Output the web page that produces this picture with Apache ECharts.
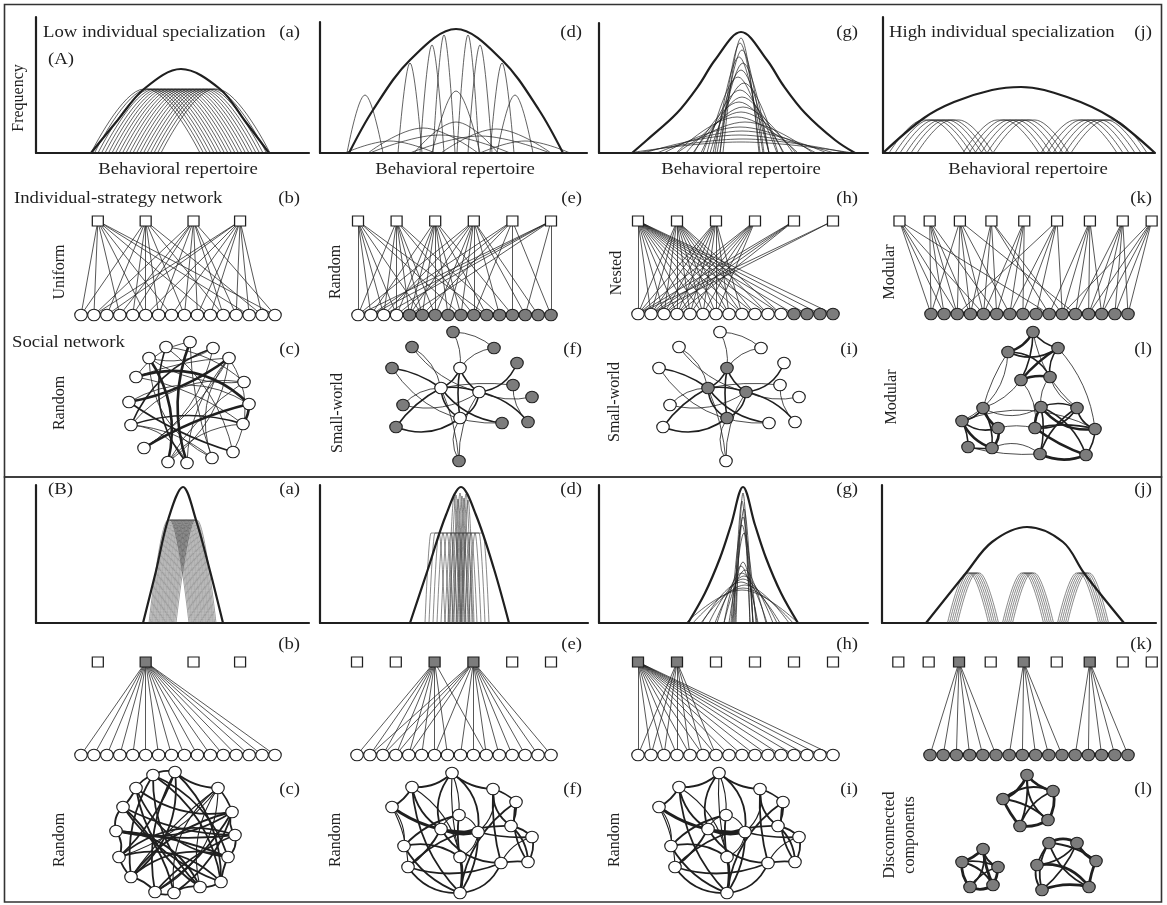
<!DOCTYPE html>
<html>
<head>
<meta charset="utf-8">
<title>Individual specialization, individual-strategy networks and social networks</title>
<script src="https://cdn.jsdelivr.net/npm/echarts@6.0.0/dist/echarts.min.js"></script>
<style>
  html, body { margin: 0; padding: 0; background: #ffffff; }
  #chart { width: 1167px; height: 905px; }
</style>
</head>
<body>
<div id="chart"></div>
<script>
/* ---------------- Frequency distributions ----------------
   x: position along the behavioral repertoire axis, y: frequency.
   pop*: key points of the population niche, ind*: individual niches. */

// (A) a - low individual specialization
const popAa = [[55,0],[81,32],[108,64],[145,84],[184,64],[209,32],[233,0]];
const indAaFeet = [55,58.5,62,65.5,69,72.5,76,79.5,83,86.5,90,93.5,97,100.5,104,107.5,111,114.5,118,121.5,125];
const indAaShape = [53,3,64];            // rise, top width, height
// (A) d
const popAd = [[29,0],[53,43],[90,93],[136,124],[182,93],[219,43],[243,0]];
const indAdCenter = [90,112,124,148,160,182, 45,195,136, 103,176,136,70,205,120,160];
const indAdHeight = [90,108,118,118,108,90, 58,58,62, 25,24,31,12,12,18,17];
const indAdHalf   = [12,12,11,11,12,12, 18,18,24, 55,55,42,45,45,70,70];
// (A) g
const popAg = [[33,0],[48,13],[78,40],[100,68],[116,93],[142,121],[168,93],[184,68],[206,40],[236,13],[256,0]];
const indAgCenter = [142,141,143,140,144,142,139,145,141,143,140,144,142,138,146,141,143,140,144,142];
const indAgHeight = [115,110,103,96,90,83,76,70,63,56,51,46,41,36,31,26,22,18,14,11];
const indAgHalf   = [18,20,22,24,26,28,31,34,37,41,45,50,55,61,68,76,85,95,105,112];
// (A) j - high individual specialization
const popAj = [[0,0],[41,35],[71,51],[109,63],[138,66],[184,56],[229,35],[272,0]];
const indAjCenter = [44,50,55,61,66,72, 118,124,130,136,142,148, 196,202,208,214,220,226];
const indAjShape = [34,8,33];

// (B) a
const popBa = [[107,0],[120,52],[132,103],[147,136],[160,103],[174,52],[187,0]];
const indBaFeet = [113,114.2,115.4,116.5,117.7,118.9,120,121.2,122.4,123.5,124.7,125.9,127,128.2,129.4,130.5,131.7,132.9,134,135.2,136.4,137.5,138.7,140];
const indBaShape = [19,2,103];
// (B) d
const popBd = [[90,0],[108,54],[126,108],[141,136],[156,108],[174,54],[189,0]];
const indBdArchCenter = [115,119,123,127,131,135,139,143,147,151,155,159];
const indBdArchShape = [6,8,90];
const indBdSpikeCenter = [134,136,138,140,142,144,146,148];
const indBdSpikeHeight = [126,128,124,130,127,125,129,123];
const indBdSpikeHalf   = [6,6,6,6,6,6,6,6];
// (B) g
const popBg = [[89,0],[106,30],[121,65],[132,98],[144,136],[156,98],[167,65],[182,30],[199,0]];
const indBgCenter = [144,143,145,144,143,145,144,142,146,143,145,144,142,146,144,143];
const indBgHeight = [130,122,114,106,98,90,61,57,53,50,47,44,41,38,35,33];
const indBgHalf   = [7,8,9,10,11,12,14,17,21,25,29,34,39,44,50,56];
// (B) j
const popBj = [[44,0],[84,50],[110,81],[145,96],[181,81],[202,50],[242,0]];
const indBjCenter = [86,88,90,92,94,96, 141,143,145,147,149,151, 196,198,200,202,204,206];
const indBjShape = [19,3,50];

/* ---------------- Individual-strategy networks ----------------
   strategies sit on the individual index scale (0..15);
   links: for each strategy, the individuals using it. */
const uniformStrategies = [1.3,5.0,8.7,12.3];
const uniformLinks = [[0,1,3,5,7,10,13,15],[0,2,4,5,6,8,11,14],[1,3,4,6,8,9,11,12,15],[1,2,5,7,9,10,12,13,14]];
const uniformIndType = [0,0,0,0,0,0,0,0,0,0,0,0,0,0,0,0];

const randomStrategies = [0,3,6,9,12,15];
const randomLinks = [[0,1,2,3,5,8,10],[0,2,3,4,5,6,9,11],[1,3,4,5,6,7,8,10,12],[0,2,4,6,7,8,9,11,13,14],[1,3,5,9,12,15],[0,1,2,4,13,15]];
const randomIndType = [0,0,0,0,1,1,1,1,1,1,1,1,1,1,1,1];

const nestedStrategies = [0,3,6,9,12,15];
const nestedLinks = [[0,1,2,3,4,5,6,7,8,9,10,11,12,13,14,15],[0,1,2,3,4,5,6,7,8,9,10,11],[0,1,2,3,4,5,6,7,8],[0,1,2,3,4,5,6],[0,1,2,3],[0,1]];
const nestedIndType = [0,0,0,0,0,0,0,0,0,0,0,0,1,1,1,1];

const modularStrategies = [-2.4,-0.1,2.2,4.6,7.1,9.6,12.1,14.6,16.8];
const modularLinks = [[0,1,2,4,9],[0,1,2,3,5],[0,2,3,4,6,11],[3,4,5,9,10],[4,5,6,7],[2,6,7,8,10],[9,10,11,12,13],[11,12,13,14,15],[10,12,13,14,15]];
const modularIndType = [1,1,1,1,1,1,1,1,1,1,1,1,1,1,1,1];

// (B): one or a few strategies per population
const bUniformLinks = [[],[0,1,2,3,4,5,6,7,8,9,10,11,12,13,14,15],[],[]];
const bUniformUsed = [0,1,0,0];
const bRandomLinks = [[],[],[0,1,2,3,4,5,6,7,10],[1,2,3,4,6,8,9,10,11,12,13,14,15],[],[]];
const bRandomUsed = [0,0,1,1,0,0];
const bNestedLinks = [[0,1,2,3,4,5,6,7,8,9,10,11,12,13,14,15],[0,1,2,3,4,5,6],[],[],[],[]];
const bNestedUsed = [1,1,0,0,0,0];
const bModularLinks = [[],[],[0,1,2,3,4,5],[],[6,7,8,9,10],[],[11,12,13,14,15],[],[]];
const bModularUsed = [0,0,1,0,1,0,1,0,0];
const bWhiteInd = [0,0,0,0,0,0,0,0,0,0,0,0,0,0,0,0];
const bGrayInd  = [1,1,1,1,1,1,1,1,1,1,1,1,1,1,1,1];

/* ---------------- Social networks ----------------
   nodes: position relative to the network centre; ties: [i, j, strength 1..3] */
const socAcNodes = [[-23,-55],[1,-60],[24,-54],[40,-44],[-40,-44],[-53,-25],[55,-20],[-60,0],[60,2],[-58,23],[54,22],[-45,46],[44,50],[-21,60],[-2,61],[23,56]];
const socAcTies = [[4,13,3],[1,14,3],[3,7,3],[0,14,2],[5,8,3],[8,11,3],[8,10,3],[2,9,2],
  [3,13,1],[3,14,1],[3,11,1],[3,15,1],[3,12,1],[3,5,1],[0,6,1],[1,5,1],[2,4,1],[4,6,1],
  [5,10,1],[6,9,1],[7,8,1],[7,12,2],[9,15,1],[10,13,1],[2,11,1],[12,0,1],[13,6,1],[14,9,1],[15,4,1],[1,15,1],[9,10,2]];
const socAcType = [0,0,0,0,0,0,0,0,0,0,0,0,0,0,0,0];

const smallWorldNodes = [[-2,-29],[-21,-9],[17,-5],[-2,21],[-9,-65],[-50,-50],[32,-49],[-70,-29],[55,-34],[51,-12],[70,0],[-59,8],[40,26],[66,25],[-66,30],[-3,64]];
const smallWorldTies = [[0,1,2],[0,2,2],[1,2,2],[1,3,2],[2,3,2],[0,3,2],[4,0,1],[6,0,1],[5,1,1],[5,2,1],[7,1,2],[7,12,1],
  [8,2,2],[9,1,1],[10,2,1],[11,2,1],[12,1,2],[13,2,2],[14,1,2],[14,3,2],[15,3,1],[15,1,1],[15,2,1],[9,13,1],[11,1,1],[6,4,1]];
const socAfType = [0,0,0,0,1,1,1,1,1,1,1,1,1,1,1,1];
const socAiType = [1,1,1,1,0,0,0,0,0,0,0,0,0,0,0,0];

const socAlNodes = [[5,-61],[-20,-41],[30,-45],[-7,-13],[22,-16],[-45,15],[-66,28],[-30,35],[-60,54],[-36,55],[13,14],[49,15],[7,35],[67,36],[12,61],[58,62]];
const socAlTies = [[0,1,3],[0,2,2],[0,3,2],[1,2,2],[1,4,2],[2,3,3],[3,4,3],[2,4,2],
  [5,6,2],[5,7,3],[6,8,2],[6,7,2],[7,9,3],[8,9,2],[5,9,2],[6,9,3],
  [10,11,2],[10,12,3],[10,14,2],[11,13,2],[11,12,2],[12,15,3],[13,15,2],[14,15,3],[10,15,2],[11,14,2],[12,13,2],[10,13,3],
  [1,6,1],[1,5,1],[2,13,1],[4,10,1],[3,12,1],[0,11,1],[7,12,1],[5,10,1],[9,14,1],[8,14,1],[3,5,1],[4,11,1],[6,13,1]];
const socAlType = [1,1,1,1,1,1,1,1,1,1,1,1,1,1,1,1];

const socBcNodes = [[-23,-57],[-1,-60],[42,-44],[56,-20],[59,3],[52,25],[45,50],[24,55],[-2,61],[-21,60],[-45,45],[-57,25],[-60,-1],[-53,-25],[-40,-44]];
const socBcTies = [[0,1,2],[1,2,2],[2,3,2],[3,4,2],[4,5,2],[5,6,2],[6,7,2],[7,8,2],[8,9,2],[9,10,2],[10,11,2],[11,12,2],[12,13,2],[13,14,2],[14,0,2],
  [0,7,2],[0,5,2],[1,9,2],[1,11,2],[2,8,1],[2,9,1],[2,10,1],[2,11,1],[2,7,1],[3,12,2],[3,10,2],[4,13,2],[4,11,2],[5,14,2],[5,12,2],
  [6,13,2],[6,0,2],[7,14,2],[8,3,2],[9,4,2],[10,1,2],[11,6,2],[12,4,2],[13,8,2],[14,3,2],[1,6,2],[0,10,2],[3,9,2],[5,10,2],[12,7,2]];
const socBcType = [0,0,0,0,0,0,0,0,0,0,0,0,0,0,0];

const randomBNodes = [[-10,-60],[-50,-46],[31,-44],[54,-31],[-70,-26],[-3,-18],[49,-7],[-21,-4],[16,-1],[70,4],[-58,13],[-2,24],[-54,34],[39,30],[66,29],[-2,60]];
const randomBTies = [[0,1,2],[0,2,2],[0,5,1],[0,7,2],[0,8,2],[0,11,1],[1,4,2],[1,7,2],[1,11,1],[1,15,2],[2,3,2],[2,6,2],[2,8,1],[2,13,2],
  [3,6,2],[3,14,2],[4,10,1],[4,8,3],[4,12,1],[5,7,1],[5,8,1],[5,11,2],[6,9,2],[6,12,2],[6,14,2],[7,8,3],[7,12,2],[7,13,2],
  [8,11,1],[8,9,2],[8,15,2],[9,13,1],[10,11,2],[10,15,2],[11,15,3],[12,15,2],[13,15,2],[14,13,2],[10,5,2],[3,15,2],[9,14,2],[12,13,2]];
const randomBType = [0,0,0,0,0,0,0,0,0,0,0,0,0,0,0,0];

const socBlNodes = [[-2,-58],[-26,-34],[24,-42],[-9,-7],[19,-13],[-46,16],[-67,29],[-31,34],[-59,54],[-36,52],[20,10],[48,10],[8,32],[67,28],[13,57],[60,54]];
const socBlTies = [[0,1,3],[0,2,3],[0,3,2],[0,4,2],[1,2,2],[1,3,3],[1,4,2],[2,3,2],[2,4,3],[3,4,3],
  [5,6,3],[5,7,2],[5,8,2],[5,9,3],[6,7,2],[6,8,3],[6,9,2],[7,8,2],[7,9,3],[8,9,3],
  [10,11,3],[10,12,2],[10,13,2],[10,14,2],[11,12,2],[11,13,3],[11,14,2],[12,14,2],[12,15,3],[13,15,3],[14,15,3],[10,15,2]];
const socBlType = [1,1,1,1,1,1,1,1,1,1,1,1,1,1,1,1];

/* ---------------- Drawing ---------------- */
const FONT = '"Liberation Serif", "Times New Roman", serif';
const INK = '#1f1f1f';
const SHADE = '#7c7c7c';

const grid = [], xAxis = [], yAxis = [], series = [], graphic = [];

function addGrid(left, top, width, height, xmin, xmax, ymin, ymax, showAxes, inverseY) {
  const i = grid.length;
  grid.push({ left, top, width, height, containLabel: false, outerBoundsMode: 'none' });
  const axisLine = { show: !!showAxes, onZero: false, lineStyle: { color: INK, width: 2.2 } };
  const common = { axisLine, axisTick: { show: false }, axisLabel: { show: false }, splitLine: { show: false } };
  xAxis.push(Object.assign({ type: 'value', gridIndex: i, min: xmin, max: xmax, show: !!showAxes, position: 'bottom' }, common));
  yAxis.push(Object.assign({ type: 'value', gridIndex: i, min: ymin, max: ymax, inverse: !!inverseY, show: !!showAxes, position: 'left' }, common));
  return i;
}

function nicheFromFoot(f, s) { return [[f, 0], [f + s[0], s[2]], [f + s[0] + s[1], s[2]], [f + 2 * s[0] + s[1], 0]]; }
function nicheFromCenter(c, s) { return nicheFromFoot(c - s[1] / 2 - s[0], s); }
function peak(c, h, hw) { return [[c - hw, 0], [c, h], [c + hw, 0]]; }

function addCurve(g, pts, width, isNiche, color) {
  series.push({
    type: 'line', xAxisIndex: g, yAxisIndex: g, data: pts,
    symbol: 'none', showSymbol: false, silent: true, animation: false, clip: false,
    smooth: isNiche ? 0.4 : 0.35, smoothMonotone: isNiche ? 'x' : null,
    lineStyle: { color: color || INK, width: width }, z: isNiche ? 2 : 3
  });
}

function curvePanel(rect, pop, individuals, thin) {
  const g = addGrid(rect[0], rect[1], rect[2], rect[3], 0, rect[2], 0, rect[3], true, false);
  individuals.forEach(p => addCurve(g, p, thin || 0.7, true, thin ? '#3a3a3a' : INK));
  addCurve(g, pop, 2.2, false);
}

// frequency distribution panels (left, top, width, height of the axes box)
curvePanel([36, 17, 273, 136], popAa, indAaFeet.map(f => nicheFromFoot(f, indAaShape)));
curvePanel([320, 22, 267, 131], popAd, indAdCenter.map((c, i) => peak(c, indAdHeight[i], indAdHalf[i])));
curvePanel([599, 23, 269, 130], popAg, indAgCenter.map((c, i) => peak(c, indAgHeight[i], indAgHalf[i])));
curvePanel([883, 17, 272, 136], popAj, indAjCenter.map(c => nicheFromCenter(c, indAjShape)));

curvePanel([36, 485, 273, 138], popBa, indBaFeet.map(f => nicheFromFoot(f, indBaShape)), 0.5);
curvePanel([320, 485, 268, 138], popBd,
  indBdArchCenter.map(c => nicheFromCenter(c, indBdArchShape))
    .concat(indBdSpikeCenter.map((c, i) => peak(c, indBdSpikeHeight[i], indBdSpikeHalf[i]))), 0.6);
curvePanel([599, 485, 269, 138], popBg, indBgCenter.map((c, i) => peak(c, indBgHeight[i], indBgHalf[i])));
curvePanel([882, 485, 274, 138], popBj, indBjCenter.map(c => nicheFromCenter(c, indBjShape)), 0.6);

// individual-strategy (bipartite) networks
function bipartite(x0, x15, ySq, yCi, strategies, links, indType, used) {
  const g = addGrid(x0, ySq, x15 - x0, yCi - ySq, 0, 15, 0, 1, false, false);
  const nodes = [];
  strategies.forEach((s, k) => nodes.push({
    value: [s, 1], symbol: 'rect', symbolSize: [11, 10],
    itemStyle: { color: used && used[k] ? SHADE : '#ffffff', borderColor: INK, borderWidth: 1.2 }
  }));
  indType.forEach((t, i) => nodes.push({
    value: [i, 0], symbol: 'circle', symbolSize: [12.5, 11.5],
    itemStyle: { color: t ? SHADE : '#ffffff', borderColor: INK, borderWidth: 1.1 }
  }));
  const edges = [];
  links.forEach((list, k) => list.forEach(i => edges.push({
    source: k, target: strategies.length + i, lineStyle: { width: 0.75, color: INK, opacity: 1, curveness: 0 }
  })));
  series.push({
    type: 'graph', layout: 'none', coordinateSystem: 'cartesian2d', xAxisIndex: g, yAxisIndex: g,
    data: nodes, links: edges, silent: true, animation: false, roam: false,
    edgeSymbol: ['none', 'none'], label: { show: false }, emphasis: { disabled: true },
    lineStyle: { color: INK, opacity: 1, width: 0.75 }, z: 4
  });
}
bipartite(81, 275, 221, 315, uniformStrategies, uniformLinks, uniformIndType, null);
bipartite(358, 551, 221, 315, randomStrategies, randomLinks, randomIndType, null);
bipartite(638, 833, 221, 314, nestedStrategies, nestedLinks, nestedIndType, null);
bipartite(931, 1128, 221, 314, modularStrategies, modularLinks, modularIndType, null);

bipartite(81, 275, 662, 755, uniformStrategies, bUniformLinks, bWhiteInd, bUniformUsed);
bipartite(357, 551, 662, 755, randomStrategies, bRandomLinks, bWhiteInd, bRandomUsed);
bipartite(638, 833, 662, 755, nestedStrategies, bNestedLinks, bWhiteInd, bNestedUsed);
bipartite(930, 1128, 662, 755, modularStrategies, bModularLinks, bGrayInd, bModularUsed);

// social networks
const BEND = [0.22, -0.18, 0.12, -0.28, 0.3, -0.08, 0.16, -0.22];
function social(cx, cy, nodes, ties, types, widths) {
  const w = 170, h = 150;
  const g = addGrid(cx - w / 2, cy - h / 2, w, h, -w / 2, w / 2, -h / 2, h / 2, false, true);
  const data = nodes.map((p, i) => ({
    value: p, symbol: 'circle', symbolSize: [12.5, 11.5],
    itemStyle: { color: types[i] ? SHADE : '#ffffff', borderColor: INK, borderWidth: 1.1 }
  }));
  const edges = ties.map((t, i) => ({
    source: t[0], target: t[1],
    lineStyle: { width: widths[t[2] - 1], color: INK, opacity: 1, curveness: BEND[i % BEND.length] }
  }));
  series.push({
    type: 'graph', layout: 'none', coordinateSystem: 'cartesian2d', xAxisIndex: g, yAxisIndex: g,
    data, links: edges, silent: true, animation: false, roam: false,
    edgeSymbol: ['none', 'none'], label: { show: false }, emphasis: { disabled: true },
    lineStyle: { color: INK, opacity: 1 }, z: 4
  });
}
const thinTies = [0.8, 1.6, 2.6];
const boldTies = [1.1, 1.8, 2.8];
social(189, 402, socAcNodes, socAcTies, socAcType, thinTies);
social(462, 397, smallWorldNodes, smallWorldTies, socAfType, thinTies);
social(729, 397, smallWorldNodes, smallWorldTies, socAiType, thinTies);
social(1028, 393, socAlNodes, socAlTies, socAlType, thinTies);
social(176, 832, socBcNodes, socBcTies, socBcType, boldTies);
social(462, 833, randomBNodes, randomBTies, randomBType, boldTies);
social(729, 833, randomBNodes, randomBTies, randomBType, boldTies);
social(1029, 833, socBlNodes, socBlTies, socBlType, boldTies);

/* ---------------- Frames and text ---------------- */
graphic.push({ type: 'rect', z: 0, shape: { x: 4.5, y: 4.5, width: 1157, height: 472.5 }, style: { fill: 'none', stroke: '#333', lineWidth: 1.6 } });
graphic.push({ type: 'rect', z: 0, shape: { x: 4.5, y: 477, width: 1157, height: 425 }, style: { fill: 'none', stroke: '#333', lineWidth: 1.6 } });

// horizontal labels are set a little wide, like the lettering of the figure
function text(x, y, str, align, rotate) {
  graphic.push({
    type: 'text', x, y, z: 10,
    rotation: rotate ? Math.PI / 2 : 0,
    scaleX: rotate ? 1 : 1.17,
    style: { text: str, font: '16px ' + FONT, fill: INK, align: align || 'left', verticalAlign: 'middle', lineHeight: 20 }
  });
}
const colRight = [300, 582, 858, 1152];
const letters = [['(a)', '(d)', '(g)', '(j)'], ['(b)', '(e)', '(h)', '(k)'], ['(c)', '(f)', '(i)', '(l)']];
[33, 199, 350].forEach((y, r) => letters[r].forEach((l, c) => text(colRight[c], y, l, 'right')));
[490, 645, 790].forEach((y, r) => letters[r].forEach((l, c) => text(colRight[c], y, l, 'right')));

text(43, 33, 'Low individual specialization', 'left');
text(889, 33, 'High individual specialization', 'left');
text(48, 60, '(A)', 'left');
text(48, 490, '(B)', 'left');
text(19, 98, 'Frequency', 'center', true);
[178, 455, 741, 1028].forEach(x => text(x, 170, 'Behavioral repertoire', 'center'));
text(14, 199, 'Individual-strategy network', 'left');
text(12, 343, 'Social network', 'left');

text(60, 272, 'Uniform', 'center', true);
text(336, 272, 'Random', 'center', true);
text(617, 273, 'Nested', 'center', true);
text(890, 272, 'Modular', 'center', true);

text(60, 403, 'Random', 'center', true);
text(338, 413, 'Small-world', 'center', true);
text(615, 402, 'Small-world', 'center', true);
text(892, 397, 'Modular', 'center', true);

text(60, 840, 'Random', 'center', true);
text(336, 840, 'Random', 'center', true);
text(615, 840, 'Random', 'center', true);
text(900, 835, 'Disconnected\ncomponents', 'center', true);

const chart = echarts.init(document.getElementById('chart'), null, { renderer: 'canvas' });
chart.setOption({
  backgroundColor: '#ffffff',
  animation: false,
  grid, xAxis, yAxis, series, graphic
});
</script>
</body>
</html>
